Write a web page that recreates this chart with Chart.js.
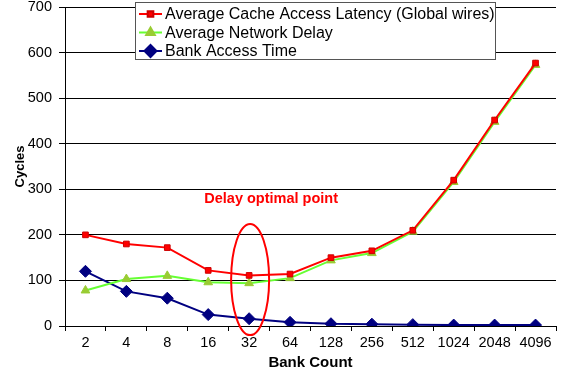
<!DOCTYPE html>
<html><head><meta charset="utf-8">
<script src="https://cdn.jsdelivr.net/npm/chart.js@4/dist/chart.umd.min.js"></script>
<style>html,body{margin:0;padding:0;background:#fff}#wrap{width:563px;height:375px}</style>
</head><body><div id="wrap"><canvas id="c" width="563" height="375"></canvas></div>
<script>
const categories = ["2","4","8","16","32","64","128","256","512","1024","2048","4096"];
const cacheLatency = [200,180,172,122,111,114,150,165,210,320,452,577];
const networkDelay = [78,103,110,96,94,105,144,160,207,316,448,573];
const bankAccess = [120,76,61,25,16,8,5,4,3,2,2,2];
const seriesNames = ["Average Cache Access Latency (Global wires)","Average Network Delay","Bank Access Time"];
const annotationText = "Delay optimal point";
const optimalCategory = "32";

const F = "'Liberation Sans', Arial, sans-serif";

const overlay = {
  id: 'overlay',
  afterDraw(chart) {
    const ctx = chart.ctx, xs = chart.scales.x, ys = chart.scales.y;
    // ellipse
    const cx = xs.getPixelForValue(categories.indexOf(optimalCategory));
    const cy = ys.getPixelForValue(102);
    const ry = ys.getPixelForValue(0) - ys.getPixelForValue(122);
    ctx.save();
    ctx.strokeStyle = '#ff0000'; ctx.lineWidth = 2;
    ctx.beginPath(); ctx.ellipse(cx+1, cy, 19, ry, 0, 0, Math.PI*2); ctx.stroke();
    // text
    ctx.fillStyle = '#ff0000'; ctx.font = "bold 14.5px " + F;
    ctx.textAlign = 'center'; ctx.textBaseline = 'middle';
    ctx.fillText(annotationText, cx + 22, ys.getPixelForValue(279));
    // legend
    const bx = 135, by = 2, bw = 360, bh = 57;
    ctx.fillStyle = '#fff'; ctx.fillRect(bx, by, bw, bh);
    ctx.strokeStyle = '#555'; ctx.lineWidth = 1;
    ctx.strokeRect(bx+0.5, by+0.5, bw, bh);
    const ds = chart.data.datasets;
    ctx.font = "16px " + F; ctx.textAlign = 'left'; ctx.textBaseline = 'middle';
    for (let i = 0; i < ds.length; i++) {
      const y = by + 12 + i*18.5;
      ctx.strokeStyle = ds[i].borderColor; ctx.lineWidth = 2;
      ctx.beginPath(); ctx.moveTo(bx+4, y); ctx.lineTo(bx+27, y); ctx.stroke();
      ctx.fillStyle = ds[i].pointBackgroundColor; ctx.strokeStyle = ds[i].pointBorderColor;
      Chart.helpers.drawPoint(ctx, {pointStyle: ds[i].pointStyle, radius: ds[i].pointRadius, borderWidth: 1, rotation: 0}, bx+15.5, y);
      ctx.fillStyle = '#000';
      ctx.fillText(seriesNames[i], bx+30, y+1);
    }
    ctx.restore();
  }
};

new Chart(document.getElementById('c'), {
  type: 'line',
  data: {
    labels: categories,
    datasets: [
      {label: seriesNames[0], data: cacheLatency, borderColor:'#ff0000', borderWidth:2,
       pointStyle:'rect', pointRadius:4, pointBackgroundColor:'#ff0000', pointBorderColor:'#cc0000', pointBorderWidth:1},
      {label: seriesNames[1], data: networkDelay, borderColor:'#66ff33', borderWidth:2,
       pointStyle:'triangle', pointRadius:5, pointBackgroundColor:'#99cc33', pointBorderColor:'#99cc33', pointBorderWidth:1},
      {label: seriesNames[2], data: bankAccess, borderColor:'#000080', borderWidth:2,
       pointStyle:'rectRot', pointRadius:6, pointBackgroundColor:'#000080', pointBorderColor:'#000080', pointBorderWidth:1}
    ]
  },
  options: {
    responsive:false, animation:false, devicePixelRatio:1,
    layout:{padding:{top:5,right:0,left:13,bottom:0}},
    plugins:{legend:{display:false}, tooltip:{enabled:false}},
    scales:{
      x:{
        offset:true,
        grid:{offset:true, drawOnChartArea:false, drawTicks:true, tickLength:5, color:'#000'},
        border:{color:'#000', width:1},
        ticks:{color:'#000', font:{family:F, size:14.5}, padding:3, maxRotation:0, autoSkip:false},
        title:{display:true, text:'Bank Count', color:'#000', font:{family:F, size:15, weight:'bold'}, padding:{top:0,bottom:3}},
        afterFit(s){ s.height = 49; }
      },
      y:{
        min:0, max:700,
        ticks:{stepSize:100, color:'#000', font:{family:F, size:14.5}, padding:7},
        grid:{color:'#000', lineWidth:1, tickLength:6},
        border:{color:'#000', width:1},
        title:{display:true, text:'Cycles', color:'#000', font:{family:F, size:13, weight:'bold'}, padding:{top:0,bottom:0}},
        afterFit(s){ s.width = 52; s.paddingTop = 0; s.paddingBottom = 0; }
      }
    }
  },
  plugins:[overlay]
});
</script></body></html>
